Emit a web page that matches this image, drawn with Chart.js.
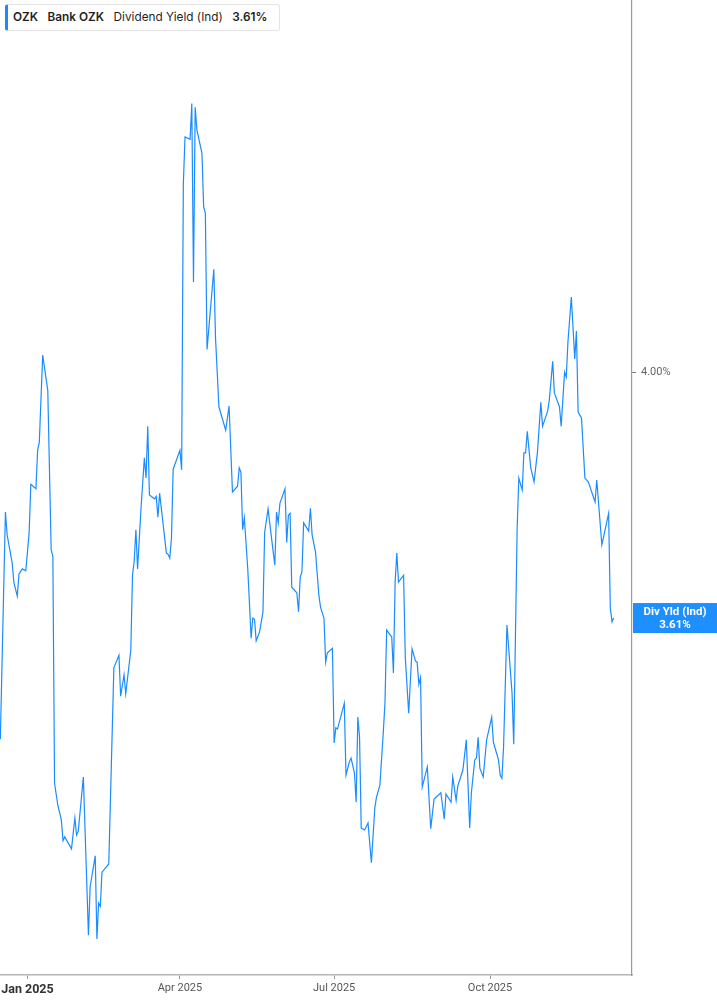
<!DOCTYPE html>
<html>
<head>
<meta charset="utf-8">
<title>OZK Dividend Yield</title>
<script src="https://cdn.jsdelivr.net/npm/chart.js@4.4.0/dist/chart.umd.min.js"></script>
<style>
    html, body { margin: 0; padding: 0; background: #fff; }
    #contenedor { position: relative; width: 717px; height: 1005px; }
    .leyenda {
        position: absolute; left: 5px; top: 4px; height: 27px; width: 275px;
        box-sizing: border-box; border: 1px solid #e4e4e4; border-left: 3px solid #1e88ff;
        border-radius: 3px; background: #fff;
        padding-left: 5px; white-space: nowrap; line-height: 25px;
        font-family: Inter, sans-serif; font-size: 11.8px; color: #1f1f1f;
    }
    .leyenda span { display: inline-block; margin-right: 9.5px; }
    .leyenda .fuerte { font-weight: 600; }
</style>
</head>
<body>
<div id="contenedor">
    <canvas id="graficaYield" width="717" height="1005"></canvas>
    <div class="leyenda"><span class="fuerte">OZK</span><span class="fuerte">Bank OZK</span><span>Dividend Yield (Ind)</span><span class="fuerte">3.61%</span></div>
</div>
<script>
// --- Datos: dias desde 2025-01-01 y rendimiento (%) ---
const dayNum = [
    -16, -13, -12, -9, -8, -6, -5, -3, -1, 1, 2, 5, 6, 7, 9, 12, 14, 15, 16, 18,
    20, 21, 22, 26, 28, 29, 30, 33, 36, 37, 40, 41, 42, 43, 44, 48, 51, 54, 55, 57,
    58, 61, 62, 63, 64, 65, 67, 69, 70, 71, 72, 75, 76, 77, 78, 82, 83, 84, 85, 86,
    90, 91, 92, 93, 96, 97, 98, 99, 100, 103, 104, 105, 106, 110, 111, 113, 117, 119, 121, 124,
    125, 126, 127, 128, 130, 131, 132, 133, 134, 135, 137, 138, 139, 140, 142, 144, 146, 147, 148, 149,
    152, 153, 154, 155, 156, 159, 160, 161, 162, 163, 166, 167, 168, 170, 172, 173, 175, 176, 177, 180,
    181, 182, 183, 187, 188, 190, 191, 193, 194, 195, 196, 197, 199, 201, 203, 205, 206, 208, 210, 211,
    212, 215, 216, 217, 218, 219, 222, 223, 225, 227, 229, 230, 231, 232, 233, 236, 238, 240, 244, 246,
    247, 250, 251, 253, 254, 257, 259, 261, 262, 264, 265, 266, 267, 269, 271, 274, 275, 278, 279, 280,
    281, 283, 286, 287, 289, 290, 292, 293, 294, 295, 297, 299, 301, 303, 304, 307, 308, 310, 311, 314,
    315, 317, 318, 319, 321, 323, 324, 325, 327, 329, 331, 335, 336, 339, 343, 344, 345, 346
];
const yields = [
    3.418, 3.778, 3.742, 3.697, 3.666, 3.645, 3.680, 3.688, 3.685, 3.745, 3.822, 3.815, 3.876, 3.889, 4.027, 3.971, 3.718, 3.708, 3.348, 3.312,
    3.290, 3.257, 3.263, 3.244, 3.293, 3.266, 3.272, 3.358, 3.107, 3.184, 3.233, 3.101, 3.158, 3.153, 3.207, 3.220, 3.531, 3.551, 3.486, 3.520,
    3.490, 3.559, 3.678, 3.700, 3.750, 3.688, 3.783, 3.864, 3.832, 3.914, 3.805, 3.799, 3.803, 3.770, 3.808, 3.713, 3.711, 3.705, 3.737, 3.846,
    3.876, 3.845, 4.298, 4.373, 4.369, 4.426, 4.143, 4.420, 4.384, 4.347, 4.262, 4.252, 4.036, 4.163, 4.054, 3.945, 3.908, 3.946, 3.810, 3.819,
    3.848, 3.841, 3.750, 3.769, 3.689, 3.635, 3.578, 3.610, 3.608, 3.574, 3.588, 3.604, 3.620, 3.746, 3.783, 3.738, 3.694, 3.778, 3.761, 3.792,
    3.815, 3.730, 3.773, 3.776, 3.659, 3.650, 3.620, 3.675, 3.683, 3.761, 3.748, 3.784, 3.742, 3.715, 3.646, 3.627, 3.610, 3.540, 3.555, 3.562,
    3.412, 3.436, 3.434, 3.475, 3.361, 3.382, 3.388, 3.364, 3.318, 3.453, 3.421, 3.277, 3.274, 3.285, 3.222, 3.309, 3.326, 3.345, 3.428, 3.475,
    3.591, 3.580, 3.523, 3.667, 3.713, 3.667, 3.678, 3.548, 3.459, 3.561, 3.542, 3.540, 3.505, 3.516, 3.342, 3.374, 3.276, 3.323, 3.333, 3.291,
    3.331, 3.318, 3.358, 3.321, 3.344, 3.369, 3.417, 3.277, 3.333, 3.385, 3.388, 3.421, 3.372, 3.358, 3.417, 3.453, 3.413, 3.385, 3.361, 3.356,
    3.406, 3.599, 3.491, 3.410, 3.750, 3.832, 3.813, 3.872, 3.872, 3.906, 3.849, 3.826, 3.873, 3.952, 3.914, 3.938, 3.956, 4.017, 3.967, 3.945,
    3.914, 4.000, 3.992, 4.048, 4.119, 4.021, 4.065, 3.937, 3.927, 3.832, 3.826, 3.794, 3.829, 3.726, 3.776, 3.626, 3.604, 3.610
];

// --- Ejes ---
const tickDays = [0, 90, 181, 273];
const tickLabels = ['Jan 2025', 'Apr 2025', 'Jul 2025', 'Oct 2025'];
const yTicks = [4.00];
const xMin = -16.2, xMax = 356.8;
const yMin = 3.044, yMax = 4.590;

const colorLinea = '#1a8cff';

// Etiqueta azul con el ultimo valor, pegada al eje derecho
const etiquetaUltimo = {
    id: 'etiquetaUltimo',
    afterDraw(chart) {
        const { ctx, chartArea, scales } = chart;
        const ultimo = yields[yields.length - 1];
        const y = scales.y.getPixelForValue(ultimo);
        const x0 = chartArea.right + 1;
        const w = chart.width - x0;
        const h = 30;
        ctx.save();
        ctx.fillStyle = '#1e8fff';
        ctx.fillRect(x0, y - h / 2, w, h);
        ctx.fillStyle = '#fff';
        ctx.font = 'bold 11.5px Roboto';
        ctx.textAlign = 'center';
        ctx.textBaseline = 'middle';
        ctx.fillText('Div Yld (Ind)', x0 + w / 2, y - 6);
        ctx.fillText(ultimo.toFixed(2) + '%', x0 + w / 2, y + 7);
        ctx.restore();
    }
};

const ctxYield = document.getElementById('graficaYield').getContext('2d');
new Chart(ctxYield, {
    type: 'line',
    data: {
        datasets: [{
            data: dayNum.map((d, i) => ({ x: d, y: yields[i] })),
            borderColor: colorLinea,
            borderWidth: 1.2,
            pointRadius: 0,
            tension: 0,
            fill: false
        }]
    },
    options: {
        responsive: false,
        animation: false,
        layout: { padding: 0 },
        plugins: {
            legend: { display: false },
            tooltip: { enabled: false }
        },
        scales: {
            x: {
                type: 'linear',
                min: xMin,
                max: xMax,
                afterBuildTicks: (s) => { s.ticks = tickDays.map(v => ({ value: v })); },
                afterFit: (s) => { s.height = 30; s.paddingLeft = 0; s.paddingRight = 0; },
                grid: { drawOnChartArea: false, drawTicks: true, tickLength: 4, color: '#999' },
                border: { color: '#b5b5b5', width: 1.5 },
                ticks: {
                    autoSkip: false,
                    maxRotation: 0,
                    padding: 3,
                    callback: (v, i) => tickLabels[i],
                    color: (c) => c.index === 0 ? '#333' : '#555',
                    font: (c) => c.index === 0
                        ? { family: 'Roboto', size: 12.5, weight: 'bold' }
                        : { family: 'Roboto', size: 11 }
                }
            },
            y: {
                position: 'right',
                min: yMin,
                max: yMax,
                afterBuildTicks: (s) => { s.ticks = yTicks.map(v => ({ value: v })); },
                afterFit: (s) => { s.width = 85; s.paddingTop = 0; s.paddingBottom = 0; },
                grid: { drawOnChartArea: false, drawTicks: true, tickLength: 4, color: '#777' },
                border: { color: '#999', width: 1.2 },
                ticks: {
                    padding: 5,
                    callback: (v) => v.toFixed(2) + '%',
                    color: '#666',
                    font: { family: 'Roboto', size: 11 }
                }
            }
        }
    },
    plugins: [etiquetaUltimo]
});
</script>
</body>
</html>
